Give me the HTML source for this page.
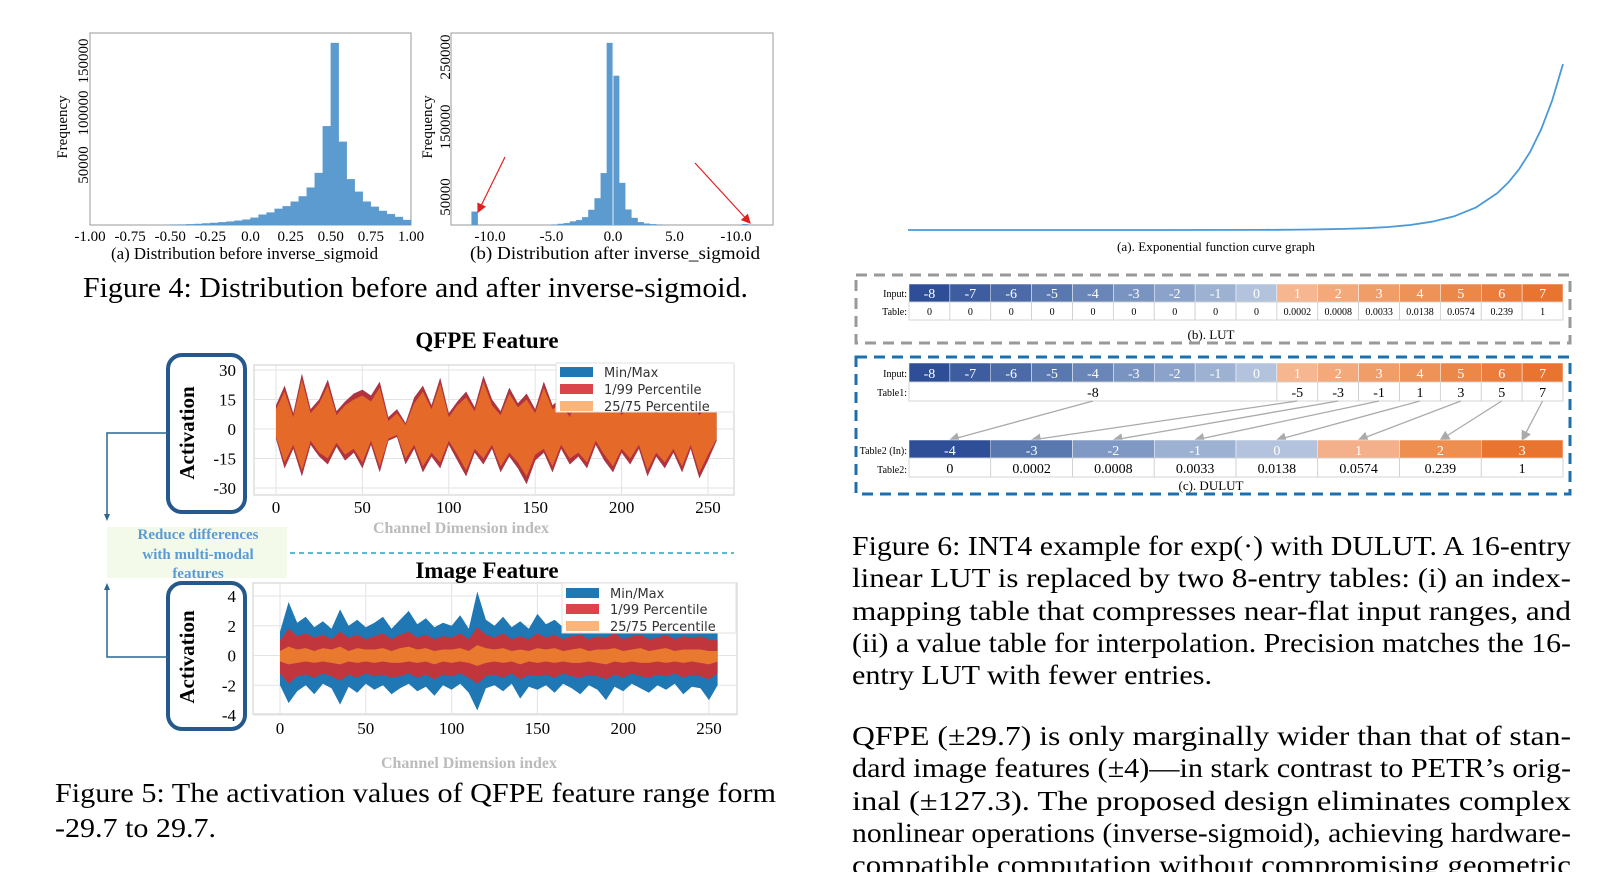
<!DOCTYPE html>
<html><head><meta charset="utf-8"><style>
html,body{margin:0;padding:0;background:#fff;}
svg{display:block;}
text{font-family:"Liberation Serif",serif;}
.sans{font-family:"DejaVu Sans","Liberation Sans",sans-serif;}
</style></head><body>
<svg id="page" width="1620" height="872" viewBox="0 0 1620 872" xmlns="http://www.w3.org/2000/svg">
<g id="fig4"></g>
<g id="fig5"></g>
<g id="fig6"></g>
<g id="body">
<text x="852" y="555" font-size="27" textLength="719" lengthAdjust="spacingAndGlyphs">Figure 6: INT4 example for exp(·) with DULUT. A 16-entry</text>
<text x="852" y="587" font-size="27" textLength="719" lengthAdjust="spacingAndGlyphs">linear LUT is replaced by two 8-entry tables: (i) an index-</text>
<text x="852" y="620" font-size="27" textLength="719" lengthAdjust="spacingAndGlyphs">mapping table that compresses near-flat input ranges, and</text>
<text x="852" y="652" font-size="27" textLength="719" lengthAdjust="spacingAndGlyphs">(ii) a value table for interpolation. Precision matches the 16-</text>
<text x="852" y="684" font-size="27" textLength="360" lengthAdjust="spacingAndGlyphs">entry LUT with fewer entries.</text>
<text x="852" y="745" font-size="27" textLength="719" lengthAdjust="spacingAndGlyphs">QFPE (±29.7) is only marginally wider than that of stan-</text>
<text x="852" y="777" font-size="27" textLength="719" lengthAdjust="spacingAndGlyphs">dard image features (±4)—in stark contrast to PETR’s orig-</text>
<text x="852" y="810" font-size="27" textLength="719" lengthAdjust="spacingAndGlyphs">inal (±127.3). The proposed design eliminates complex</text>
<text x="852" y="842" font-size="27" textLength="719" lengthAdjust="spacingAndGlyphs">nonlinear operations (inverse-sigmoid), achieving hardware-</text>
<text x="852" y="874" font-size="27" textLength="719" lengthAdjust="spacingAndGlyphs">compatible computation without compromising geometric</text>
<text x="83" y="297" font-size="28" textLength="665" lengthAdjust="spacingAndGlyphs">Figure 4: Distribution before and after inverse-sigmoid.</text>
<text x="55" y="802" font-size="27" textLength="721" lengthAdjust="spacingAndGlyphs">Figure 5: The activation values of QFPE feature range form</text>
<text x="55" y="837" font-size="27" textLength="161" lengthAdjust="spacingAndGlyphs">-29.7 to 29.7.</text>
</g>
</svg>
<script>
// ---------- Figure 4 data ----------
const histA_binStart = [-1.0,-0.95,-0.9,-0.85,-0.8,-0.75,-0.7,-0.65,-0.6,-0.55,-0.5,-0.45,-0.4,-0.35,-0.3,-0.25,-0.2,-0.15,-0.1,-0.05,0.0,0.05,0.1,0.15,0.2,0.25,0.3,0.35,0.4,0.45,0.5,0.55,0.6,0.65,0.7,0.75,0.8,0.85,0.9,0.95];
const histA_counts = [0,0,0,0,0,0,0,0,0,0,200,400,700,1000,1500,2000,2600,3300,4200,5200,7000,10000,12000,15500,18000,22500,27500,36000,50000,95000,175000,80000,44000,32000,22500,17500,13500,10500,7700,4800];
const histA_xTicks = ["-1.00","-0.75","-0.50","-0.25","0.0","0.25","0.50","0.75","1.00"];
const histA_yTicks = [50000,100000,150000];
const histB_binStart = [-11.5,-11.0,-5.0,-4.5,-4.0,-3.5,-3.0,-2.5,-2.0,-1.5,-1.0,-0.5,0.0,0.5,1.0,1.5,2.0,2.5,3.0,3.5,10.5];
const histB_counts = [29000,0,10500,11500,12500,15000,17000,21000,31500,48000,84000,270000,223000,70000,32000,20000,14000,12000,11000,10300,11000];
const histB_xTickVals = [-10,-5,0,5,10];
const histB_xTickLabels = ["-10.0","-5.0","0.0","5.0","-10.0"];
const histB_yTicks = [50000,150000,250000];

// ---------- Figure 5 data (every 5th channel) ----------
const qfpeP99 = [12,22,8,28,10,15,25,9,14,18,20,17,24,6,10,3,16,22,12,26,8,14,19,11,27,15,9,21,13,18,10,24,12,16,8,22,14,19,11,17,9,15,20,13,10,18,12,14,16,9,15,10];
const qfpeP1  = [-5,-20,-10,-24,-8,-14,-18,-9,-16,-12,-20,-8,-22,-6,-4,-18,-10,-22,-14,-20,-8,-16,-24,-12,-18,-10,-22,-14,-20,-28,-16,-12,-22,-10,-18,-14,-20,-8,-16,-22,-12,-18,-10,-24,-14,-20,-12,-22,-10,-25,-16,-6];
const qfpeQ75 = [10,19,6,25,8,13,22,7,12,15,17,14,21,4,8,2,13,19,10,23,6,12,16,9,24,12,7,18,11,15,8,21,10,13,6,19,12,16,9,14,7,12,17,11,8,15,10,12,13,7,12,8];
const qfpeQ25 = [-4,-17,-8,-21,-6,-12,-15,-7,-13,-10,-17,-6,-19,-5,-3,-15,-8,-19,-12,-17,-6,-13,-21,-10,-15,-8,-19,-12,-17,-24,-13,-10,-19,-8,-15,-12,-17,-6,-13,-19,-10,-15,-8,-21,-12,-17,-10,-19,-8,-22,-13,-5];
const imgMax = [1.6,3.6,2.2,2.6,1.9,2.3,1.8,3.1,2.0,2.4,1.9,2.2,2.6,1.8,2.4,3.0,2.1,2.5,1.9,2.2,2.0,2.7,1.8,4.3,2.4,2.0,2.6,1.9,2.3,1.8,2.8,2.1,2.4,1.9,2.2,2.5,1.8,2.3,2.0,2.6,1.9,2.2,2.4,1.8,2.1,2.5,1.9,2.2,2.0,2.3,1.8,1.6];
const imgMin = [-2.0,-3.2,-2.4,-2.0,-2.6,-1.9,-2.2,-3.3,-2.1,-2.5,-1.9,-2.3,-2.0,-2.6,-2.2,-1.9,-2.4,-2.1,-2.7,-2.0,-2.3,-1.9,-2.5,-3.7,-2.2,-2.0,-2.4,-1.9,-2.9,-2.1,-2.3,-2.0,-2.5,-1.9,-2.2,-2.6,-2.0,-2.3,-3.0,-2.1,-2.4,-1.9,-2.2,-2.5,-2.0,-2.3,-1.9,-2.6,-2.1,-2.2,-3.0,-2.0];
const imgP99 = [1.0,1.8,1.3,1.5,1.2,1.4,1.1,1.6,1.2,1.4,1.1,1.3,1.5,1.1,1.4,1.6,1.2,1.4,1.1,1.3,1.2,1.5,1.1,1.9,1.4,1.2,1.5,1.1,1.3,1.1,1.5,1.2,1.4,1.1,1.3,1.4,1.1,1.3,1.2,1.5,1.1,1.3,1.4,1.1,1.2,1.4,1.1,1.3,1.2,1.3,1.1,1.0];
const imgP1 = [-1.2,-1.9,-1.4,-1.3,-1.5,-1.2,-1.4,-1.7,-1.3,-1.5,-1.2,-1.4,-1.3,-1.5,-1.4,-1.2,-1.5,-1.3,-1.6,-1.3,-1.4,-1.2,-1.5,-1.9,-1.4,-1.3,-1.5,-1.2,-1.6,-1.3,-1.4,-1.3,-1.5,-1.2,-1.4,-1.5,-1.3,-1.4,-1.6,-1.3,-1.5,-1.2,-1.4,-1.5,-1.3,-1.4,-1.2,-1.5,-1.3,-1.4,-1.6,-1.2];
const imgQ75 = [0.3,0.6,0.4,0.5,0.3,0.5,0.4,0.6,0.3,0.5,0.4,0.4,0.5,0.3,0.5,0.6,0.4,0.5,0.3,0.4,0.4,0.5,0.3,0.7,0.5,0.4,0.5,0.3,0.4,0.3,0.5,0.4,0.5,0.3,0.4,0.5,0.3,0.4,0.4,0.5,0.3,0.4,0.5,0.3,0.4,0.5,0.3,0.4,0.4,0.4,0.3,0.3];
const imgQ25 = [-0.4,-0.6,-0.5,-0.4,-0.5,-0.4,-0.5,-0.6,-0.4,-0.5,-0.4,-0.5,-0.4,-0.5,-0.5,-0.4,-0.5,-0.4,-0.6,-0.4,-0.5,-0.4,-0.5,-0.7,-0.5,-0.4,-0.5,-0.4,-0.6,-0.4,-0.5,-0.4,-0.5,-0.4,-0.5,-0.5,-0.4,-0.5,-0.6,-0.4,-0.5,-0.4,-0.5,-0.5,-0.4,-0.5,-0.4,-0.5,-0.4,-0.5,-0.6,-0.4];
const channelStep = 5;
const qfpeYTicks = [30,15,0,-15,-30];
const imgYTicks = [4,2,0,-2,-4];
const chXTicks = [0,50,100,150,200,250];
const legendLabels = ["Min/Max","1/99 Percentile","25/75 Percentile"];

// ---------- Figure 6 data ----------
const expX = [-8,-6,-4,-2,0,0.5,1,1.5,2,2.5,3,3.5,4,4.5,5,5.5,5.75,6,6.25,6.5,6.75,7];
const expY = [0,0,0,0.0001,0.0009,0.0015,0.0025,0.0041,0.0067,0.011,0.018,0.030,0.050,0.082,0.135,0.223,0.287,0.368,0.472,0.607,0.779,1];
const lutInput = [-8,-7,-6,-5,-4,-3,-2,-1,0,1,2,3,4,5,6,7];
const lutTable = ["0","0","0","0","0","0","0","0","0","0.0002","0.0008","0.0033","0.0138","0.0574","0.239","1"];
const table1Vals = [-8,-5,-3,-1,1,3,5,7];
const table2In = [-4,-3,-2,-1,0,1,2,3];
const table2Vals = ["0","0.0002","0.0008","0.0033","0.0138","0.0574","0.239","1"];

const NS = "http://www.w3.org/2000/svg";
function mk(parent, tag, attrs, txt) {
  const e = document.createElementNS(NS, tag);
  for (const k in attrs) e.setAttribute(k, attrs[k]);
  if (txt !== undefined) e.textContent = txt;
  parent.appendChild(e);
  return e;
}

// ===== Figure 4 =====
const f4 = document.getElementById('fig4');
(function(){
  const L=90,R=411,T=33,B=225;
  const xA = v => L + (v + 1) / 2 * (R - L);
  const yA = v => B - v * (182 / 175000);
  const frameA = mk(f4,'rect',{x:L,y:T,width:R-L,height:B-T,fill:'none',stroke:'#aaa','stroke-width':1.2});
  
  
  histA_counts.forEach((c,i)=>{
    if(c<=0) return;
    const x0=xA(histA_binStart[i]), x1=xA(histA_binStart[i]+0.05);
    const r=mk(f4,'rect',{x:x0,y:yA(c),width:x1-x0,height:B-yA(c),fill:'#5b9bcf',stroke:'#5b9bcf','stroke-width':0.3});
    
    
  });
  histA_xTicks.forEach((t,i)=>{
    const tx=mk(f4,'text',{x:xA(-1+i*0.25),y:241,'font-size':15,'text-anchor':'middle'},t);
    
    
  });
  histA_yTicks.forEach(v=>{
    const y=yA(v)-8;
    const tx=mk(f4,'text',{x:0,y:0,'font-size':15,'text-anchor':'middle',transform:`translate(88,${y}) rotate(-90)`},String(v));
    
    
  });
  const yl=mk(f4,'text',{x:0,y:0,'font-size':15,'text-anchor':'middle',transform:'translate(67,127) rotate(-90)'},'Frequency');
  
  
  const ca=mk(f4,'text',{x:111,y:259,'font-size':17,textLength:267,lengthAdjust:'spacingAndGlyphs'},'(a) Distribution before inverse_sigmoid');
  
  

  const L2=451,R2=773;
  const xB = v => 613 + v * 12.3;
  const yB = v => 232 - v * 0.0007;
  const frameB = mk(f4,'rect',{x:L2,y:T,width:R2-L2,height:B-T,fill:'none',stroke:'#aaa','stroke-width':1.2});
  
  
  histB_counts.forEach((c,i)=>{
    const top=Math.min(yB(c),B);
    if(top>=B) return;
    const x0=xB(histB_binStart[i]), x1=xB(histB_binStart[i]+0.5);
    const r=mk(f4,'rect',{x:x0,y:top,width:x1-x0,height:B-top,fill:'#5b9bcf',stroke:'#5b9bcf','stroke-width':0.3});
    
    
  });
  mk(f4,'line',{x1:xB(0),y1:T+10,x2:xB(0),y2:B,stroke:'#e8eef5','stroke-width':1});
  histB_xTickVals.forEach((v,i)=>{
    const tx=mk(f4,'text',{x:xB(v),y:241,'font-size':15,'text-anchor':'middle'},histB_xTickLabels[i]);
    
    
  });
  histB_yTicks.forEach(v=>{
    const y=yB(v);
    const tx=mk(f4,'text',{x:0,y:0,'font-size':15,'text-anchor':'middle',transform:`translate(450,${y}) rotate(-90)`},String(v));
    
    
  });
  const yl2=mk(f4,'text',{x:0,y:0,'font-size':15,'text-anchor':'middle',transform:'translate(432,127) rotate(-90)'},'Frequency');
  
  
  const cb=mk(f4,'text',{x:470,y:259,'font-size':18,textLength:290,lengthAdjust:'spacingAndGlyphs'},'(b) Distribution after inverse_sigmoid');
  
  
  const defs=mk(f4,'defs',{});
  const m=mk(defs,'marker',{id:'redhead',markerWidth:8,markerHeight:8,refX:7,refY:4,orient:'auto'});
  mk(m,'path',{d:'M0,0 L8,4 L0,8 z',fill:'#e02020'});
  const a1=mk(f4,'line',{x1:505,y1:157,x2:478,y2:212,stroke:'#e02020','stroke-width':1.2,'marker-end':'url(#redhead)'});
  
  
  const a2=mk(f4,'line',{x1:695,y1:163,x2:750,y2:223,stroke:'#e02020','stroke-width':1.2,'marker-end':'url(#redhead)'});
  
  
})();

// ===== Figure 5 =====
const f5 = document.getElementById('fig5');
function bandPath(xf, yf, up, lo){
  const n=Math.min(up.length, lo.length);
  let d='';
  for(let i=0;i<n;i++) d+=(i?'L':'M')+xf(i*channelStep).toFixed(1)+','+yf(up[i]).toFixed(1);
  for(let i=n-1;i>=0;i--) d+='L'+xf(i*channelStep).toFixed(1)+','+yf(lo[i]).toFixed(1);
  return d+'Z';
}
function actPlot(cfg){
  const {L,R,T,B,x0,x250,yTicks,yPos,name,title,titleY,series,colors,legY,box,labY} = cfg;
  const xf = v => x0 + v*(x250-x0)/250;
  const yf = v => yPos[0] + (yTicks[0]-v)*(yPos[1]-yPos[0])/(yTicks[0]-yTicks[yTicks.length-1]);
  const g=mk(f5,'g',{});
  
  
  const fr=mk(g,'rect',{x:L,y:T,width:R-L,height:B-T,fill:'#fff',stroke:'#ddd','stroke-width':1.5});
  
  
  chXTicks.forEach(v=>{
    mk(g,'line',{x1:xf(v),y1:T,x2:xf(v),y2:B,stroke:'#e3e3e3','stroke-width':1});
    const t=mk(g,'text',{x:xf(v),y:labY,'font-size':17,'text-anchor':'middle'},String(v));
    
    
  });
  yTicks.forEach(v=>{
    mk(g,'line',{x1:L,y1:yf(v),x2:R,y2:yf(v),stroke:'#e3e3e3','stroke-width':1});
    const t=mk(g,'text',{x:236,y:yf(v)+6,'font-size':17,'text-anchor':'end'},String(v));
    
    
  });
  const b1=mk(g,'path',{d:bandPath(xf,yf,series[0],series[1]),fill:colors[0]});
  
  
  const b2=mk(g,'path',{d:bandPath(xf,yf,series[2],series[3]),fill:colors[1]});
  
  
  const b3=mk(g,'path',{d:bandPath(xf,yf,series[4],series[5]),fill:colors[2]});
  
  
  const tt=mk(g,'text',{x:487,y:titleY,'font-size':23,'font-weight':'bold','text-anchor':'middle'},title);
  
  
  const lg=mk(g,'g',{});
  
  
  mk(lg,'rect',{x:legY.x,y:legY.y,width:legY.w,height:legY.h,fill:'#fff',stroke:'#e2e2e2'});
  const lc=['#1f77b4','#d9454a','#fbb47a'];
  legendLabels.forEach((lab,i)=>{
    const yy=legY.rows[i];
    mk(lg,'rect',{x:legY.x+4,y:yy-5,width:33,height:10,fill:lc[i]});
    const t=mk(lg,'text',{x:legY.x+48,y:yy+5,'font-size':13,fill:'#333',class:'sans'},lab);
    
    
  });
  const bx=mk(g,'rect',{x:box.x,y:box.y,width:77,height:box.h,rx:14,fill:'none',stroke:'#25598d','stroke-width':4});
  
  
  const at=mk(g,'text',{x:0,y:0,'font-size':21,'font-weight':'bold','text-anchor':'middle',transform:`translate(194,${box.c}) rotate(-90)`},'Activation');
  
  
}
actPlot({L:254,R:734,T:365,B:495,x0:276,x250:708,yTicks:qfpeYTicks,yPos:[370,488],name:'qfpe',title:'QFPE Feature',titleY:348,
  series:[qfpeP99,qfpeP1,qfpeP99,qfpeP1,qfpeQ75,qfpeQ25],colors:['#1f77b4','#b3333d','#e56a2a'],
  legY:{x:556,y:363,w:178,h:49,rows:[372,389,406]},box:{x:168,y:355,h:157,c:433},labY:513});
actPlot({L:253,R:737,T:583,B:714,x0:280,x250:709,yTicks:imgYTicks,yPos:[596,715],name:'image',title:'Image Feature',titleY:578,
  series:[imgMax,imgMin,imgP99,imgP1,imgQ75,imgQ25],colors:['#1f77b4','#c1363d','#e8792e'],
  legY:{x:562,y:583,w:174,h:50,rows:[593,609,626]},box:{x:168,y:583,h:146,c:657},labY:734});
(function(){
  const x1=mk(f5,'text',{x:461,y:533,'font-size':16,'font-weight':'bold',fill:'#bbb','text-anchor':'middle'},'Channel Dimension index');
  
  
  const x2=mk(f5,'text',{x:469,y:768,'font-size':16,'font-weight':'bold',fill:'#bbb','text-anchor':'middle'},'Channel Dimension index');
  
  
  const gb=mk(f5,'rect',{x:107,y:527,width:180,height:51,fill:'#f3fae9'});
  
  
  [['Reduce differences',539],['with multi-modal',559],['features',578]].forEach(([t,y])=>{
    const e=mk(f5,'text',{x:198,y:y,'font-size':15,'font-weight':'bold',fill:'#5b9bd5','text-anchor':'middle'},t);
    
    
  });
  const dl=mk(f5,'line',{x1:290,y1:553,x2:734,y2:553,stroke:'#2aa0c0','stroke-width':1.5,'stroke-dasharray':'5,4'});
  
  
  const c1=mk(f5,'path',{d:'M168,433 H107 V516',fill:'none',stroke:'#2a6690','stroke-width':1.5});
  
  
  mk(f5,'path',{d:'M104,514 L107,521 L110,514 Z',fill:'#2a6690'});
  const c2=mk(f5,'path',{d:'M168,657 H107 V588',fill:'none',stroke:'#2a6690','stroke-width':1.5});
  
  
  mk(f5,'path',{d:'M104,590 L107,583 L110,590 Z',fill:'#2a6690'});
})();

// ===== Figure 6 =====
const f6 = document.getElementById('fig6');
const blueCols = {"-8":'#2e4f97',"-7":'#3d5da0',"-6":'#4c6aa8',"-5":'#5a78b0',"-4":'#6a86b9',"-3":'#7a94c1',"-2":'#8ba2ca',"-1":'#9db1d3',"0":'#b3c3dd'};
const orCols = {"1":'#f5b690',"2":'#f3a97a',"3":'#f09d68',"4":'#ee9258',"5":'#ec874a',"6":'#ea7d3c',"7":'#e8742f'};
const t2Cols = ['#2e4f97','#5a78b0','#7f98c4','#9db1d3','#b3c3dd','#f3b08a','#ee8f50','#e8742f'];
function cellColor(v){ return v<=0 ? blueCols[String(v)] : orCols[String(v)]; }
(function(){
  const ex = v => 908 + (v + 8) / 15 * (1563 - 908);
  const ey = v => 230 - v * 166;
  let d='';
  expX.forEach((v,i)=>{ d+=(i?'L':'M')+ex(v).toFixed(1)+','+ey(expY[i]).toFixed(1); });
  const c=mk(f6,'path',{d:d,fill:'none',stroke:'#4a9ad8','stroke-width':1.8,'stroke-linejoin':'round'});
  
  
  const ct=mk(f6,'text',{x:1216,y:251,'font-size':13,'text-anchor':'middle',textLength:198,lengthAdjust:'spacingAndGlyphs'},'(a). Exponential function curve graph');
  
  

  const X0=909, W=(1563-909)/16;
  const gb=mk(f6,'rect',{x:856,y:275,width:714,height:68,fill:'none',stroke:'#999','stroke-width':3,'stroke-dasharray':'11,7'});
  
  
  function inputRow(y,h,prefix){
    lutInput.forEach((v,i)=>{
      const r=mk(f6,'rect',{x:X0+i*W,y:y,width:W,height:h,fill:cellColor(v),stroke:'#fff','stroke-width':0.5});
      
      
      const t=mk(f6,'text',{x:X0+(i+0.5)*W,y:y+h-4,'font-size':14,fill:'#fff','text-anchor':'middle'},String(v));
      
      
    });
    const l=mk(f6,'text',{x:X0-2,y:y+h-5,'font-size':10,'text-anchor':'end'},'Input:');
    
    
  }
  inputRow(284,18,'lut');
  lutTable.forEach((v,i)=>{
    const r=mk(f6,'rect',{x:X0+i*W,y:302,width:W,height:18,fill:'#fff',stroke:'#ccc','stroke-width':0.8});
    
    
    const t=mk(f6,'text',{x:X0+(i+0.5)*W,y:315,'font-size':10,'text-anchor':'middle'},v);
    
    
  });
  mk(f6,'text',{x:X0-2,y:315,'font-size':10,'text-anchor':'end'},'Table:');
  const lc=mk(f6,'text',{x:1211,y:339,'font-size':13,'text-anchor':'middle'},'(b). LUT');
  
  

  const bb=mk(f6,'rect',{x:856,y:357,width:714,height:137,fill:'none',stroke:'#1f6fad','stroke-width':3,'stroke-dasharray':'11,7'});
  
  
  inputRow(363,19,'dulut');
  mk(f6,'text',{x:X0-2,y:396,'font-size':10,'text-anchor':'end'},'Table1:');
  const t1c=[];
  table1Vals.forEach((v,i)=>{
    const x = i===0 ? X0 : X0+(i+8)*W;
    const w = i===0 ? 9*W : W;
    const r=mk(f6,'rect',{x:x,y:382,width:w,height:19,fill:'#fff',stroke:'#ccc','stroke-width':0.8});
    
    
    const t=mk(f6,'text',{x:x+w/2,y:397,'font-size':14,'text-anchor':'middle'},String(v));
    
    
    t1c.push(x+w/2);
  });
  const W2=(1563-909)/8;
  const dm=mk(f6,'defs',{});
  const mm=mk(dm,'marker',{id:'grayhead',markerWidth:8,markerHeight:8,refX:7,refY:4,orient:'auto'});
  mk(mm,'path',{d:'M0,0 L8,4 L0,8 z',fill:'#aaa'});
  table1Vals.forEach((v,i)=>{
    const tx = X0+(i+0.5)*W2;
    const a=mk(f6,'line',{x1:t1c[i],y1:401,x2:tx,y2:440,stroke:'#aaa','stroke-width':1.3,'marker-end':'url(#grayhead)'});
    
    
  });
  table2In.forEach((v,i)=>{
    const r=mk(f6,'rect',{x:X0+i*W2,y:440,width:W2,height:18,fill:t2Cols[i],stroke:'#fff','stroke-width':0.5});
    
    
    const t=mk(f6,'text',{x:X0+(i+0.5)*W2,y:455,'font-size':14,fill:'#fff','text-anchor':'middle'},String(v));
    
    
    const r2=mk(f6,'rect',{x:X0+i*W2,y:458,width:W2,height:19,fill:'#fff',stroke:'#ccc','stroke-width':0.8});
    
    
    const t2=mk(f6,'text',{x:X0+(i+0.5)*W2,y:473,'font-size':14,'text-anchor':'middle'},table2Vals[i]);
    
    
  });
  mk(f6,'text',{x:X0-2,y:454,'font-size':10,'text-anchor':'end'},'Table2 (In):');
  mk(f6,'text',{x:X0-2,y:473,'font-size':10,'text-anchor':'end'},'Table2:');
  const dc=mk(f6,'text',{x:1211,y:490,'font-size':13,'text-anchor':'middle'},'(c). DULUT');
  
  
})();
</script>
</body></html>
